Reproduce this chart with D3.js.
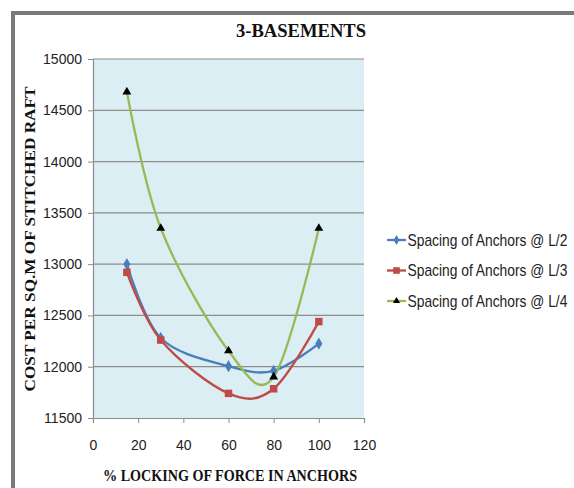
<!DOCTYPE html>
<html>
<head>
<meta charset="utf-8">
<script src="https://cdn.jsdelivr.net/npm/d3@7"></script>
<style>
  html, body { margin: 0; padding: 0; background: #fff; }
  svg { display: block; }
</style>
</head>
<body>
<svg id="chart" width="574" height="488"></svg>
<script>
// Chart data
const locking = [15, 30, 60, 80, 100];
const spacingL2 = [13000, 12280, 12005, 11960, 12225];
const spacingL3 = [12920, 12260, 11740, 11785, 12440];
const spacingL4 = [14680, 13350, 12155, 11900, 13350];
const seriesNames = ["Spacing of Anchors @ L/2", "Spacing of Anchors @ L/3", "Spacing of Anchors @ L/4"];
const yTicks = [11500, 12000, 12500, 13000, 13500, 14000, 14500, 15000];
const xTicks = [0, 20, 40, 60, 80, 100, 120];

const series = [
  { name: seriesNames[0], values: spacingL2, color: "#4A7EBB", marker: "diamond", markerColor: "#4A7EBB" },
  { name: seriesNames[1], values: spacingL3, color: "#BE4B48", marker: "square", markerColor: "#BE4B48" },
  { name: seriesNames[2], values: spacingL4, color: "#98B954", marker: "triangle", markerColor: "#000000" }
];

const svg = d3.select("#chart");
const plot = { left: 93, right: 364, top: 59, bottom: 418 };

const x = d3.scaleLinear().domain([0, 120]).range([plot.left, plot.right]);
const y = d3.scaleLinear().domain([11500, 15000]).range([plot.bottom, plot.top]);

const sansFont = "'Liberation Sans', Arial, sans-serif";
const serifFont = "'Liberation Serif', 'Times New Roman', serif";

// Outer frame (top and left edges)
svg.append("rect").attr("x", 11).attr("y", 11).attr("width", 563).attr("height", 4).attr("fill", "#7a7a7a");
svg.append("rect").attr("x", 11).attr("y", 11).attr("width", 4).attr("height", 477).attr("fill", "#7a7a7a");

// Title
svg.append("text")
  .attr("x", 301).attr("y", 37)
  .attr("text-anchor", "middle")
  .attr("font-family", serifFont)
  .attr("font-weight", "bold")
  .attr("font-size", 18)
  .attr("textLength", 130).attr("lengthAdjust", "spacingAndGlyphs")
  .attr("fill", "#111")
  .text("3-BASEMENTS");

// Plot background
svg.append("rect")
  .attr("x", plot.left).attr("y", plot.top)
  .attr("width", plot.right - plot.left).attr("height", plot.bottom - plot.top)
  .attr("fill", "#DBEEF4");

// Horizontal gridlines
svg.append("g")
  .selectAll("line")
  .data(yTicks.filter(d => d > 11500))
  .join("line")
  .attr("x1", plot.left).attr("x2", plot.right)
  .attr("y1", d => y(d)).attr("y2", d => y(d))
  .attr("stroke", "#8c8c8c").attr("stroke-width", 1.2);

// Y axis
const yAxis = svg.append("g")
  .attr("transform", `translate(${plot.left},0)`)
  .call(d3.axisLeft(y).tickValues(yTicks).tickSize(5).tickPadding(6).tickFormat(d3.format("d")));
yAxis.select(".domain").attr("stroke", "#8c8c8c").attr("stroke-width", 1.2);
yAxis.selectAll(".tick line").attr("stroke", "#8c8c8c");
yAxis.selectAll(".tick text")
  .attr("font-family", sansFont)
  .attr("font-size", 14).attr("fill", "#222");

// X axis
const xAxis = svg.append("g")
  .attr("transform", `translate(0,${plot.bottom})`)
  .call(d3.axisBottom(x).tickValues(xTicks).tickSize(5).tickPadding(17));
xAxis.select(".domain").attr("stroke", "#8c8c8c").attr("stroke-width", 1.2);
xAxis.selectAll(".tick line").attr("stroke", "#8c8c8c");
xAxis.selectAll(".tick text")
  .attr("font-family", sansFont)
  .attr("font-size", 14).attr("fill", "#222");

// Axis titles
svg.append("text")
  .attr("x", 230).attr("y", 481)
  .attr("text-anchor", "middle")
  .attr("font-family", serifFont)
  .attr("font-weight", "bold").attr("font-size", 16).attr("fill", "#111")
  .attr("textLength", 254).attr("lengthAdjust", "spacingAndGlyphs")
  .text("% LOCKING OF FORCE IN ANCHORS");

svg.append("text")
  .attr("transform", "translate(35,239) rotate(-90)")
  .attr("text-anchor", "middle")
  .attr("font-family", serifFont)
  .attr("font-weight", "bold").attr("font-size", 15).attr("fill", "#111")
  .attr("textLength", 305).attr("lengthAdjust", "spacingAndGlyphs")
  .text("COST PER SQ.M OF STITCHED RAFT");

// Smoothed series lines
const line = d3.line()
  .x((d, i) => x(locking[i]))
  .y(d => y(d))
  .curve(d3.curveCatmullRom.alpha(0));

const symbolType = { diamond: d3.symbolDiamond, square: d3.symbolSquare, triangle: d3.symbolTriangle };
const symbolSize = { diamond: 44, square: 56, triangle: 34 };
const legendSymbolSize = { diamond: 30, square: 44, triangle: 22 };

const lines = svg.append("g");
series.forEach(s => {
  lines.append("path")
    .attr("d", line(s.values))
    .attr("fill", "none")
    .attr("stroke", s.color)
    .attr("stroke-width", 2.3);
});
series.forEach(s => {
  lines.append("g").selectAll("path")
    .data(s.values)
    .join("path")
    .attr("transform", (d, i) => `translate(${x(locking[i])},${y(d)})`)
    .attr("d", d3.symbol().type(symbolType[s.marker]).size(symbolSize[s.marker])())
    .attr("fill", s.markerColor);
});

// Legend: entries use a horizontally condensed label to fit beside the plot
const legend = svg.append("g");
const labelWidth = 160;
series.forEach((s, i) => {
  const cy = 240 + i * 30.5;
  const g = legend.append("g").attr("transform", `translate(387,${cy})`);
  g.append("line").attr("x1", 0).attr("x2", 19).attr("y1", 0).attr("y2", 0)
    .attr("stroke", s.color).attr("stroke-width", 2.3);
  g.append("path").attr("transform", "translate(9.5,0)")
    .attr("d", d3.symbol().type(symbolType[s.marker]).size(legendSymbolSize[s.marker])())
    .attr("fill", s.markerColor);
  const label = g.append("g").attr("transform", "translate(20.5,5.5)");
  const t = label.append("text")
    .attr("x", 0).attr("y", 0)
    .attr("font-family", sansFont)
    .attr("font-size", 16).attr("fill", "#222")
    .text(s.name);
  const natural = t.node().getComputedTextLength();
  label.attr("transform", `translate(20.5,5.5) scale(${labelWidth / natural},1)`);
});
</script>
</body>
</html>
